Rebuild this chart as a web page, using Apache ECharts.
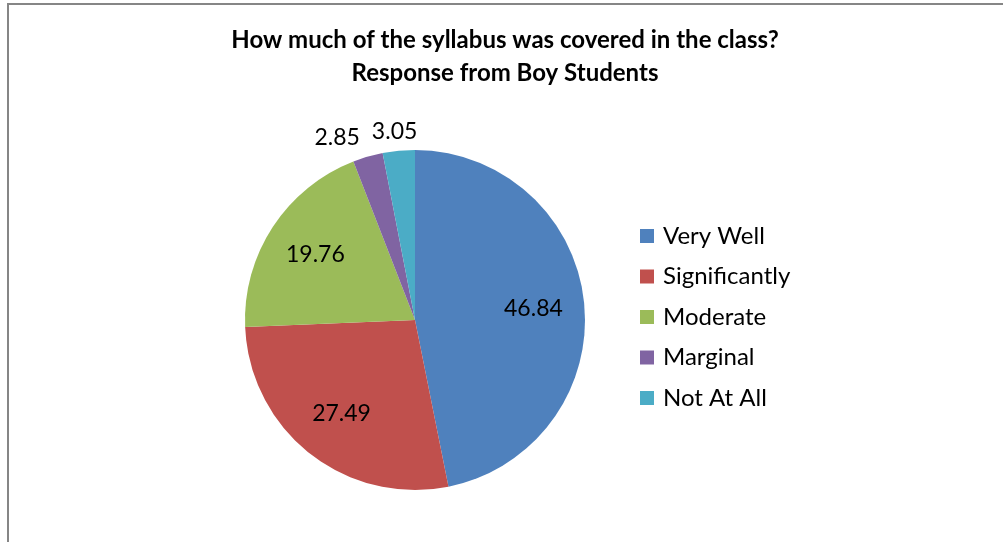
<!DOCTYPE html>
<html>
<head>
<meta charset="utf-8">
<script src="https://cdn.jsdelivr.net/npm/echarts@6/dist/echarts.min.js"></script>
<style>
    html, body { margin: 0; padding: 0; background: #fff; }
    #chart { width: 1003px; height: 542px; }
</style>
</head>
<body>
<div id="chart"></div>
<script>
// chart data
const titleLines = ['How much of the syllabus was covered in the class?', 'Response from Boy Students'];
const categories = ['Very Well', 'Significantly', 'Moderate', 'Marginal', 'Not At All'];
const values = [46.84, 27.49, 19.76, 2.85, 3.05];
const colors = ['#4F81BD', '#C0504D', '#9BBB59', '#8064A2', '#4BACC6'];

const FONT = 'Lato, "Open Sans", sans-serif';
const CENTER = [415, 320];
const RADIUS = 170;

// mid angle (radians, standard orientation) of each slice, pie starts at top and runs clockwise
const total = values.reduce((a, b) => a + b, 0);
function midAngle(index) {
    let before = 0;
    for (let i = 0; i < index; i++) before += values[i];
    const frac = (before + values[index] / 2) / total;
    return Math.PI / 2 - frac * Math.PI * 2;
}

/**
 * Place labels the way the spreadsheet did: large slices inside at ~70% radius,
 * tiny slices just outside the rim.
 */
function placeLabel(params) {
    const a = midAngle(params.dataIndex);
    const ux = Math.cos(a);
    const uy = Math.sin(a);
    const w = params.labelRect.width;
    const h = params.labelRect.height;
    if (values[params.dataIndex] >= 5) {
        const r = RADIUS * 0.7;
        return {
            x: CENTER[0] + r * ux,
            y: CENTER[1] - r * uy,
            align: 'center',
            verticalAlign: 'middle'
        };
    }
    const r = RADIUS + 8;
    const kx = Math.max(-1, Math.min(1, ux * Math.abs(ux) * 12));
    const ky = Math.max(-1, Math.min(1, uy * 3));
    return {
        x: CENTER[0] + r * ux + kx * (w / 2 + 8),
        y: CENTER[1] - r * uy - ky * h / 2,
        align: 'center',
        verticalAlign: 'middle'
    };
}

const chart = echarts.init(document.getElementById('chart'));

chart.setOption({
    animation: false,
    color: colors,
    title: {
        text: titleLines.join('\n'),
        left: 505,
        top: 24,
        padding: 0,
        textAlign: 'center',
        textStyle: {
            fontFamily: FONT,
            fontSize: 24,
            fontWeight: 'bold',
            color: '#000',
            lineHeight: 33
        }
    },
    legend: {
        orient: 'vertical',
        left: 640,
        top: 224,
        padding: 0,
        itemWidth: 14,
        itemHeight: 14,
        itemGap: 16.5,
        icon: 'rect',
        data: categories,
        textStyle: {
            fontFamily: FONT,
            fontSize: 24,
            lineHeight: 24,
            color: '#000',
            padding: [0, 0, 0, 4]
        }
    },
    graphic: [{
        type: 'rect',
        silent: true,
        shape: { x: 8, y: 4, width: 1100, height: 700 },
        style: { fill: 'none', stroke: '#868686', lineWidth: 2 }
    }],
    series: [{
        type: 'pie',
        center: CENTER,
        radius: RADIUS,
        startAngle: 90,
        clockwise: true,
        avoidLabelOverlap: false,
        itemStyle: { borderWidth: 0 },
        emphasis: { disabled: true },
        label: {
            show: true,
            position: 'inside',
            formatter: p => p.value.toFixed(2),
            fontFamily: FONT,
            fontSize: 23,
            color: '#000'
        },
        labelLine: { show: false },
        labelLayout: placeLabel,
        data: categories.map((name, i) => ({ name: name, value: values[i] }))
    }]
});
</script>
</body>
</html>
